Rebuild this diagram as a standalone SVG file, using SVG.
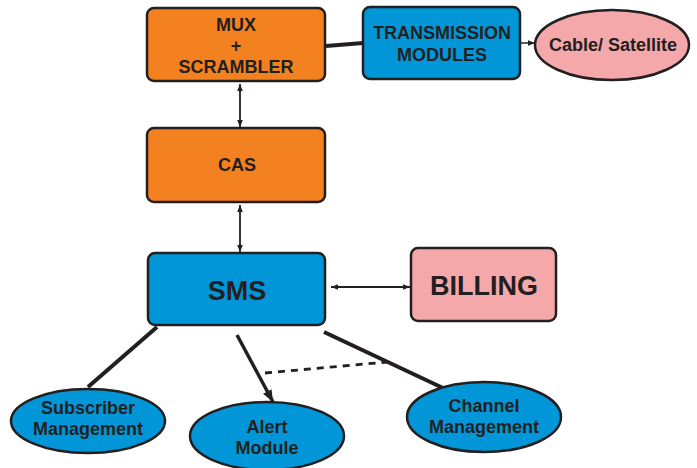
<svg xmlns="http://www.w3.org/2000/svg" width="697" height="468" viewBox="0 0 697 468">
<style>
.box{stroke:#231f20;stroke-width:2.5}
.or{fill:#f48120}.bl{fill:#0096d8}.pk{fill:#f5a8aa}
text{font-family:"Liberation Sans",Arial,sans-serif;font-weight:bold;fill:#231f20;text-anchor:middle}
.t14{font-size:18px}.t24{font-size:27px}
.ln{stroke:#231f20;fill:none}
</style>
<defs>
<marker id="ah" viewBox="0 0 10 10" refX="10" refY="5" markerWidth="7" markerHeight="7" orient="auto-start-reverse" markerUnits="userSpaceOnUse"><path d="M0,1 L10,5 L0,9 Z" fill="#231f20"/></marker>
<marker id="ahb" viewBox="0 0 10 10" refX="10" refY="5" markerWidth="12" markerHeight="12" orient="auto" markerUnits="userSpaceOnUse"><path d="M0,1 L10,5 L0,9 Z" fill="#231f20"/></marker>
</defs>
<g id="connectors">
<path class="ln" d="M326,46 L363,43" stroke-width="4"/>
<path class="ln" d="M520,43 L535,43" stroke-width="1.5" marker-end="url(#ah)"/>
<path class="ln" d="M240,84 L240,127" stroke-width="1.8" marker-start="url(#ah)" marker-end="url(#ah)"/>
<path class="ln" d="M240,205 L240,252" stroke-width="1.8" marker-start="url(#ah)" marker-end="url(#ah)"/>
<path class="ln" d="M331,287 L410,287" stroke-width="1.8" marker-start="url(#ah)" marker-end="url(#ah)"/>
<path class="ln" d="M157,327 L88,387" stroke-width="4"/>
<path class="ln" d="M237,335 L273,402" stroke-width="3.5" marker-end="url(#ahb)"/>
<path class="ln" d="M324,332 L443,388" stroke-width="4"/>
<path class="ln" d="M265,373 L387,362" stroke-width="2.8" stroke-dasharray="7,6"/>
</g>
<g id="mux"><rect class="box or" x="147" y="8" width="178" height="73" rx="7"/>
<text class="t14" x="236" y="31">MUX</text><text class="t14" x="236" y="52">+</text><text class="t14" x="236" y="73">SCRAMBLER</text></g>
<g id="transmission"><rect class="box bl" x="363" y="7" width="157" height="72" rx="7"/>
<text class="t14" x="442" y="39">TRANSMISSION</text><text class="t14" x="442" y="61">MODULES</text></g>
<g id="cable"><ellipse class="box pk" cx="612" cy="45" rx="77" ry="35" stroke-width="1.5"/>
<text class="t14" x="613" y="51">Cable/ Satellite</text></g>
<g id="cas"><rect class="box or" x="147" y="128" width="178" height="74" rx="7"/>
<text class="t14" x="237" y="171">CAS</text></g>
<g id="sms"><rect class="box bl" x="148" y="253" width="177" height="72" rx="7"/>
<text class="t24" x="237" y="300">SMS</text></g>
<g id="billing"><rect class="box pk" x="411" y="248" width="145" height="73" rx="7"/>
<text class="t24" x="484" y="295">BILLING</text></g>
<g id="subscriber"><ellipse class="box bl" cx="88" cy="421" rx="77" ry="32" stroke-width="1.5"/>
<text class="t14" x="88" y="414">Subscriber</text><text class="t14" x="88" y="435">Management</text></g>
<g id="alert"><ellipse class="box bl" cx="267" cy="436" rx="77" ry="34" stroke-width="1.5"/>
<text class="t14" x="267" y="433">Alert</text><text class="t14" x="267" y="454">Module</text></g>
<g id="channel"><ellipse class="box bl" cx="484" cy="417" rx="77" ry="35" stroke-width="1.5"/>
<text class="t14" x="484" y="412">Channel</text><text class="t14" x="484" y="433">Management</text></g>
</svg>
